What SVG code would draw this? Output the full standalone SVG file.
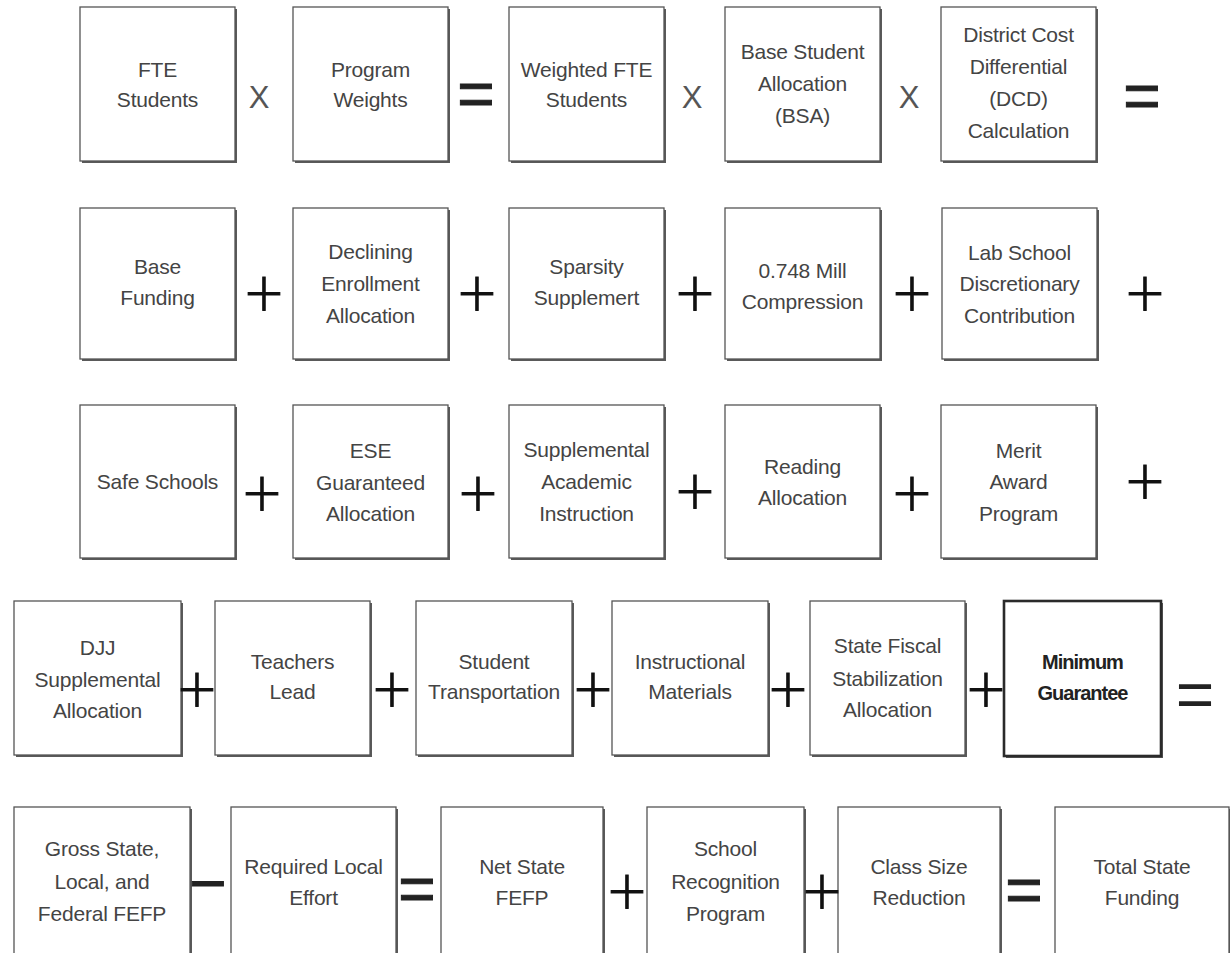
<svg xmlns="http://www.w3.org/2000/svg" width="1230" height="953" viewBox="0 0 1230 953">
<style>
.sh{fill:#5a5a5a}
.bx{fill:#fff;stroke:#555;stroke-width:1.3}
.bxb{fill:#fff;stroke:#2a2a2a;stroke-width:2.6}
.t{font-family:"Liberation Sans",Arial,sans-serif;font-size:21px;letter-spacing:-0.2px;fill:#444;text-anchor:middle}
.tb{font-family:"Liberation Sans",Arial,sans-serif;font-size:20px;font-weight:bold;letter-spacing:-1px;fill:#222;text-anchor:middle}
.op{font-family:Lato,"Liberation Sans",sans-serif;font-weight:300;font-size:68px;fill:#111;stroke:#111;stroke-width:0.8;text-anchor:middle}
.x{font-family:"Liberation Sans",Arial,sans-serif;font-size:31px;fill:#555;text-anchor:middle}
.eq{font-family:"Liberation Sans",Arial,sans-serif;font-size:64px;fill:#222;stroke:#222;stroke-width:1;text-anchor:middle}
.eq2{font-family:"Liberation Sans",Arial,sans-serif;font-size:66px;fill:#222;text-anchor:middle}
</style>
<rect width="1230" height="953" fill="#fff"/>

<!-- Row 1 -->
<g id="fte-students"><rect class="sh" x="82" y="9" width="155" height="154"/><rect class="bx" x="80" y="7" width="155" height="154"/><text class="t" x="157.5" y="77">FTE</text><text class="t" x="157.5" y="107">Students</text></g>
<g id="program-weights"><rect class="sh" x="295" y="9" width="155" height="154"/><rect class="bx" x="293" y="7" width="155" height="154"/><text class="t" x="370.5" y="77">Program</text><text class="t" x="370.5" y="107">Weights</text></g>
<g id="weighted-fte"><rect class="sh" x="511" y="9" width="155" height="154"/><rect class="bx" x="509" y="7" width="155" height="154"/><text class="t" x="586.5" y="77">Weighted FTE</text><text class="t" x="586.5" y="107">Students</text></g>
<g id="bsa"><rect class="sh" x="727" y="9" width="155" height="154"/><rect class="bx" x="725" y="7" width="155" height="154"/><text class="t" x="802.5" y="59">Base Student</text><text class="t" x="802.5" y="91">Allocation</text><text class="t" x="802.5" y="123">(BSA)</text></g>
<g id="dcd"><rect class="sh" x="943" y="9" width="155" height="154"/><rect class="bx" x="941" y="7" width="155" height="154"/><text class="t" x="1018.5" y="42">District Cost</text><text class="t" x="1018.5" y="74">Differential</text><text class="t" x="1018.5" y="106">(DCD)</text><text class="t" x="1018.5" y="138">Calculation</text></g>

<!-- Row 2 -->
<g id="base-funding"><rect class="sh" x="82" y="210" width="155" height="151"/><rect class="bx" x="80" y="208" width="155" height="151"/><text class="t" x="157.5" y="274">Base</text><text class="t" x="157.5" y="305">Funding</text></g>
<g id="declining-enrollment"><rect class="sh" x="295" y="210" width="155" height="151"/><rect class="bx" x="293" y="208" width="155" height="151"/><text class="t" x="370.5" y="259">Declining</text><text class="t" x="370.5" y="291">Enrollment</text><text class="t" x="370.5" y="323">Allocation</text></g>
<g id="sparsity"><rect class="sh" x="511" y="210" width="155" height="151"/><rect class="bx" x="509" y="208" width="155" height="151"/><text class="t" x="586.5" y="274">Sparsity</text><text class="t" x="586.5" y="305">Supplemert</text></g>
<g id="mill-compression"><rect class="sh" x="727" y="210" width="155" height="151"/><rect class="bx" x="725" y="208" width="155" height="151"/><text class="t" x="802.5" y="278">0.748 Mill</text><text class="t" x="802.5" y="309">Compression</text></g>
<g id="lab-school"><rect class="sh" x="944" y="210" width="155" height="151"/><rect class="bx" x="942" y="208" width="155" height="151"/><text class="t" x="1019.5" y="260">Lab School</text><text class="t" x="1019.5" y="291">Discretionary</text><text class="t" x="1019.5" y="323">Contribution</text></g>

<!-- Row 3 -->
<g id="safe-schools"><rect class="sh" x="82" y="407" width="155" height="153"/><rect class="bx" x="80" y="405" width="155" height="153"/><text class="t" x="157.5" y="489">Safe Schools</text></g>
<g id="ese-guaranteed"><rect class="sh" x="295" y="407" width="155" height="153"/><rect class="bx" x="293" y="405" width="155" height="153"/><text class="t" x="370.5" y="458">ESE</text><text class="t" x="370.5" y="490">Guaranteed</text><text class="t" x="370.5" y="521">Allocation</text></g>
<g id="sai"><rect class="sh" x="511" y="407" width="155" height="153"/><rect class="bx" x="509" y="405" width="155" height="153"/><text class="t" x="586.5" y="457">Supplemental</text><text class="t" x="586.5" y="489">Academic</text><text class="t" x="586.5" y="521">Instruction</text></g>
<g id="reading"><rect class="sh" x="727" y="407" width="155" height="153"/><rect class="bx" x="725" y="405" width="155" height="153"/><text class="t" x="802.5" y="474">Reading</text><text class="t" x="802.5" y="505">Allocation</text></g>
<g id="merit-award"><rect class="sh" x="943" y="407" width="155" height="153"/><rect class="bx" x="941" y="405" width="155" height="153"/><text class="t" x="1018.5" y="458">Merit</text><text class="t" x="1018.5" y="489">Award</text><text class="t" x="1018.5" y="521">Program</text></g>

<!-- Row 4 -->
<g id="djj"><rect class="sh" x="16" y="603" width="167" height="154"/><rect class="bx" x="14" y="601" width="167" height="154"/><text class="t" x="97.5" y="655">DJJ</text><text class="t" x="97.5" y="687">Supplemental</text><text class="t" x="97.5" y="718">Allocation</text></g>
<g id="teachers-lead"><rect class="sh" x="217" y="603" width="155" height="154"/><rect class="bx" x="215" y="601" width="155" height="154"/><text class="t" x="292.5" y="669">Teachers</text><text class="t" x="292.5" y="699">Lead</text></g>
<g id="transportation"><rect class="sh" x="418" y="603" width="156" height="154"/><rect class="bx" x="416" y="601" width="156" height="154"/><text class="t" x="494" y="669">Student</text><text class="t" x="494" y="699">Transportation</text></g>
<g id="instructional-materials"><rect class="sh" x="614" y="603" width="156" height="154"/><rect class="bx" x="612" y="601" width="156" height="154"/><text class="t" x="690" y="669">Instructional</text><text class="t" x="690" y="699">Materials</text></g>
<g id="state-fiscal"><rect class="sh" x="812" y="603" width="155" height="154"/><rect class="bx" x="810" y="601" width="155" height="154"/><text class="t" x="887.5" y="653">State Fiscal</text><text class="t" x="887.5" y="686">Stabilization</text><text class="t" x="887.5" y="717">Allocation</text></g>
<g id="minimum-guarantee"><rect class="sh" x="1006" y="603" width="157" height="155"/><rect class="bxb" x="1004" y="601" width="157" height="155"/><text class="tb" x="1082.5" y="669">Minimum</text><text class="tb" x="1082.5" y="700">Guarantee</text></g>

<!-- Row 5 -->
<g id="gross-fefp"><rect class="sh" x="16" y="809" width="176" height="160"/><rect class="bx" x="14" y="807" width="176" height="160"/><text class="t" x="102" y="856">Gross State,</text><text class="t" x="102" y="889">Local, and</text><text class="t" x="102" y="921">Federal FEFP</text></g>
<g id="required-local-effort"><rect class="sh" x="233" y="809" width="165" height="160"/><rect class="bx" x="231" y="807" width="165" height="160"/><text class="t" x="313.5" y="874">Required Local</text><text class="t" x="313.5" y="905">Effort</text></g>
<g id="net-state-fefp"><rect class="sh" x="443" y="809" width="162" height="160"/><rect class="bx" x="441" y="807" width="162" height="160"/><text class="t" x="522" y="874">Net State</text><text class="t" x="522" y="905">FEFP</text></g>
<g id="school-recognition"><rect class="sh" x="649" y="809" width="157" height="160"/><rect class="bx" x="647" y="807" width="157" height="160"/><text class="t" x="725.5" y="856">School</text><text class="t" x="725.5" y="889">Recognition</text><text class="t" x="725.5" y="921">Program</text></g>
<g id="class-size"><rect class="sh" x="840" y="809" width="162" height="160"/><rect class="bx" x="838" y="807" width="162" height="160"/><text class="t" x="919" y="874">Class Size</text><text class="t" x="919" y="905">Reduction</text></g>
<g id="total-state-funding"><rect class="sh" x="1057" y="809" width="174" height="160"/><rect class="bx" x="1055" y="807" width="174" height="160"/><text class="t" x="1142" y="874">Total State</text><text class="t" x="1142" y="905">Funding</text></g>

<!-- Operators -->
<g id="operators">
<text class="x" x="259" y="108">X</text>
<text class="eq" x="476" y="116">=</text>
<text class="x" x="692" y="108">X</text>
<text class="x" x="909" y="108">X</text>
<text class="eq" x="1142" y="118">=</text>

<text class="op" x="264" y="317">+</text>
<text class="op" x="477" y="317">+</text>
<text class="op" x="695" y="317">+</text>
<text class="op" x="912" y="317">+</text>
<text class="op" x="1145" y="317">+</text>

<text class="op" x="262" y="517">+</text>
<text class="op" x="478" y="517">+</text>
<text class="op" x="695" y="515">+</text>
<text class="op" x="912" y="517">+</text>
<text class="op" x="1145" y="505">+</text>

<text class="op" x="197" y="713">+</text>
<text class="op" x="392" y="713">+</text>
<text class="op" x="593" y="713">+</text>
<text class="op" x="788" y="713">+</text>
<text class="op" x="986" y="713">+</text>
<text class="eq2" x="1195" y="717">=</text>

<text class="eq" x="208" y="905">−</text>
<text class="eq" x="417" y="911">=</text>
<text class="op" x="627" y="915">+</text>
<text class="op" x="822" y="915">+</text>
<text class="eq" x="1024" y="912">=</text>
</g>
</svg>
